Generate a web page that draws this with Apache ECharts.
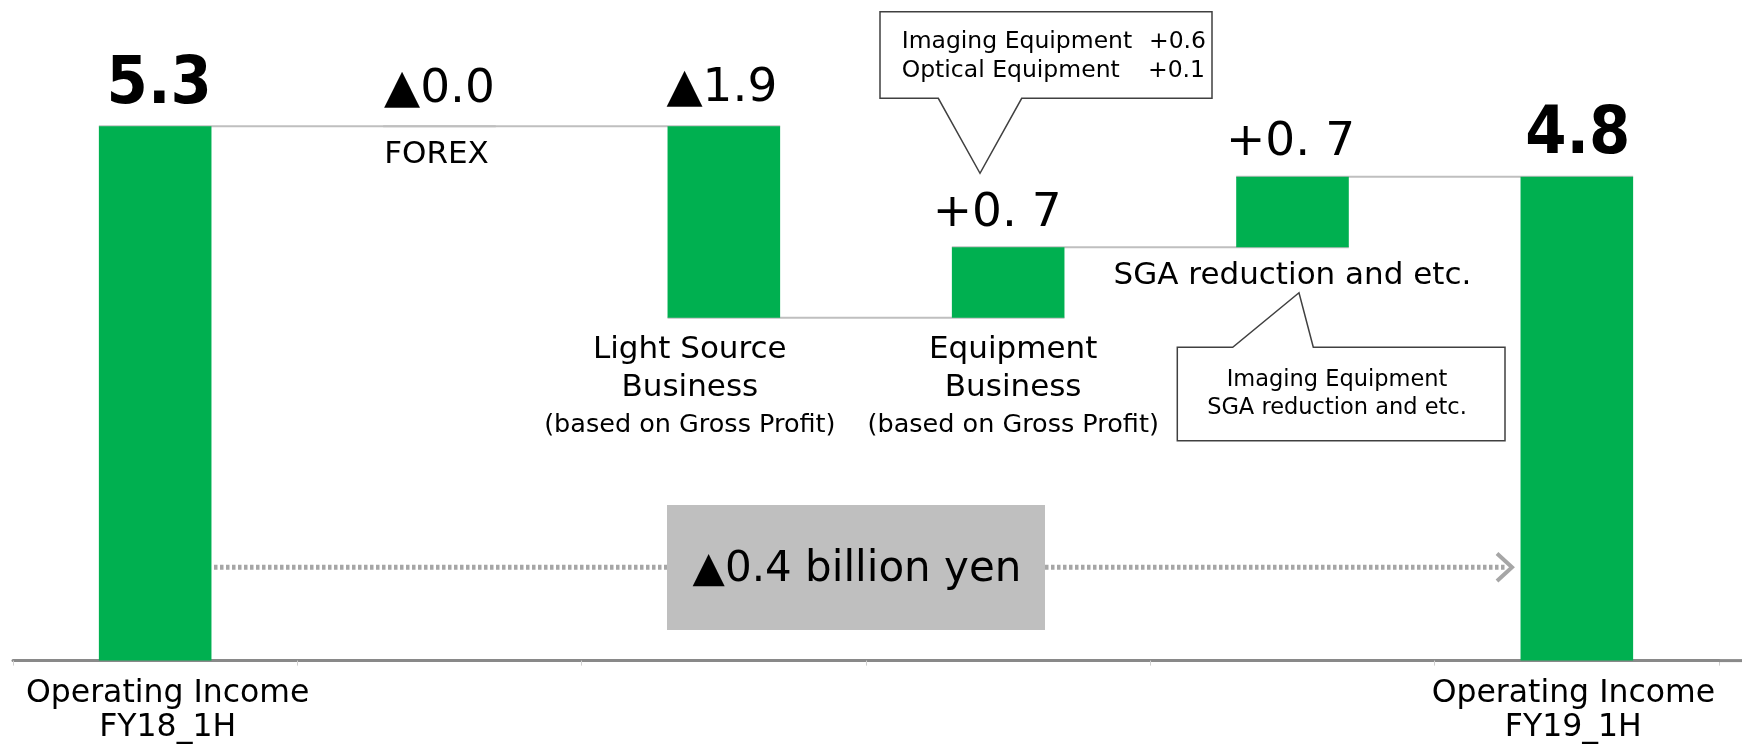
<!DOCTYPE html>
<html>
<head>
<meta charset="utf-8">
<script src="https://cdn.jsdelivr.net/npm/echarts@6/dist/echarts.min.js"></script>
<style>
html,body{margin:0;padding:0;background:#fff;}
#chart{width:1742px;height:744px;}
</style>
</head>
<body>
<div id="chart"></div>
<script>
// ---- data ----
const categories = ['Operating Income\nFY18_1H', 'FOREX', 'Light Source\nBusiness', 'Equipment\nBusiness', 'SGA reduction and etc.', 'Operating Income\nFY19_1H'];
const categoryNotes = ['', '', '(based on Gross Profit)', '(based on Gross Profit)', '', ''];
const startValue = 5.3;
const endValue = 4.8;
const changes = [-0.0, -1.9, 0.7, 0.7];
const valueLabels = ['5.3', '▲0.0', '▲1.9', '+0. 7', '+0. 7', '4.8'];
const callout1Lines = ['Imaging Equipment', 'Optical Equipment'];
const callout1Values = ['+0.6', '+0.1'];
const callout2Lines = ['Imaging Equipment', 'SGA reduction and etc.'];
const totalText = '▲0.4 billion yen';

// ---- derived waterfall values ----
const levels = [startValue];
changes.forEach(c => levels.push(+(levels[levels.length - 1] + c).toFixed(2)));
levels.push(endValue);
const baseValues = [0];
const barValues = [startValue];
changes.forEach((c, k) => {
  const prev = levels[k], next = levels[k + 1];
  baseValues.push(Math.min(prev, next));
  barValues.push(Math.abs(c));
});
baseValues.push(0);
barValues.push(endValue);
const connectorData = [];
for (let i = 0; i < categories.length - 1; i++) connectorData.push([i, i + 1, levels[i]]);

// ---- styles ----
const FONT = "'DejaVu Sans', Verdana, sans-serif";
const BOLD_FONT = "'DejaVu Sans Condensed', 'DejaVu Sans', sans-serif";
const GREEN = '#00B050';
const BAR_RATIO = 0.396;
const isTotal = i => i === 0 || i === categories.length - 1;
const topOffsets = [[4, 0], [0, 0], [-2, 0], [-11, 0], [-2, 0], [1, 0]];
const topDistances = [7.5, 13, 13.5, 10, 10, 7.5];
const bottomOffsets = [[0, 0], [-3, 0], [-34, 0], [5, 0], [0, 0], [0, 0]];
const bottomDistances = [0, 10, 13.3, 13.3, 10, 0];

const chart = echarts.init(document.getElementById('chart'), null, {renderer: 'canvas'});

function renderConnector(params, api) {
  const i0 = api.value(0), i1 = api.value(1), y = api.value(2);
  const band = api.size([1, 0])[0];
  const half = band * BAR_RATIO / 2;
  const p0 = api.coord([i0, y]);
  const p1 = api.coord([i1, y]);
  return {
    type: 'line',
    shape: {x1: p0[0] - half, y1: p0[1], x2: p1[0] + half, y2: p1[1]},
    style: {stroke: '#BFBFBF', lineWidth: 2}
  };
}

const barData = barValues.map((v, i) => ({
  value: v,
  label: isTotal(i) ? {
    show: true, position: 'top', distance: topDistances[i], offset: topOffsets[i],
    formatter: valueLabels[i],
    fontFamily: BOLD_FONT, fontWeight: 'bold', fontSize: 66, lineHeight: 66, color: '#000'
  } : {
    show: true, position: 'top', distance: topDistances[i], offset: topOffsets[i],
    formatter: valueLabels[i],
    fontFamily: FONT, fontSize: 47, lineHeight: 47, color: '#000'
  }
}));

const baseData = baseValues.map((v, i) => ({
  value: v,
  label: isTotal(i) ? {show: false} : {
    show: true, position: 'insideTop', distance: bottomDistances[i], offset: bottomOffsets[i],
    formatter: () => {
      const main = categories[i].split('\n').map(s => '{a|' + s + '}').join('\n');
      return categoryNotes[i] ? main + '\n{b|' + categoryNotes[i] + '}' : main;
    },
    rich: {
      a: {fontFamily: FONT, fontSize: 31, lineHeight: 38, color: '#000'},
      b: {fontFamily: FONT, fontSize: 25.5, lineHeight: 37, color: '#000'}
    }
  }
}));

const axisData = categories.map((c, i) => ({
  value: c,
  textStyle: i === 0 ? {padding: [0, 0, 0, 25]} : (i === categories.length - 1 ? {padding: [0, 7, 0, 0]} : {})
}));

const option = {
  animation: false,
  backgroundColor: '#fff',
  grid: {left: 13, right: 23, top: 55.7, bottom: 83.4, containLabel: false, outerBoundsMode: 'none'},
  xAxis: {
    type: 'category',
    data: axisData,
    axisLine: {show: true, lineStyle: {color: '#898989', width: 3}},
    axisTick: {show: true, length: 5, lineStyle: {color: '#D0D0D0', width: 1}},
    axisLabel: {
      interval: 0,
      formatter: (val, idx) => isTotal(idx) ? val : '',
      fontFamily: FONT, fontSize: 31.5, lineHeight: 34, color: '#000', margin: 16
    }
  },
  yAxis: {type: 'value', min: 0, max: 6, show: false, splitLine: {show: false}},
  series: [
    {
      type: 'custom', name: 'connector', renderItem: renderConnector,
      data: connectorData, encode: {x: [0, 1], y: 2}, z: 1, silent: true
    },
    {
      type: 'bar', name: 'base', stack: 'w', barWidth: (BAR_RATIO * 100) + '%',
      itemStyle: {color: 'rgba(0,0,0,0)'}, data: baseData, z: 2, silent: true
    },
    {
      type: 'bar', name: 'value', stack: 'w', barWidth: (BAR_RATIO * 100) + '%',
      itemStyle: {color: GREEN}, data: barData, z: 3, silent: true
    }
  ],
  graphic: [
    // axis line continuation beyond the last tick
    {type: 'line', shape: {x1: 1719, y1: 660.6, x2: 1742, y2: 660.6}, style: {stroke: '#898989', lineWidth: 3}, z: 1},
    // dotted arrow
    {type: 'line', shape: {x1: 214, y1: 567.3, x2: 667, y2: 567.3}, style: {stroke: '#A6A6A6', lineWidth: 5, lineDash: [3.5, 2.5]}},
    {type: 'line', shape: {x1: 1045, y1: 567.3, x2: 1506, y2: 567.3}, style: {stroke: '#A6A6A6', lineWidth: 5, lineDash: [3.5, 2.5]}},
    {type: 'polyline', shape: {points: [[1497, 553.5], [1512, 567.3], [1497, 581]]}, style: {stroke: '#A6A6A6', lineWidth: 4, fill: null}},
    // total change box
    {type: 'rect', shape: {x: 667, y: 505, width: 378, height: 125}, style: {fill: '#BFBFBF'}},
    {type: 'text', x: 857, y: 570, style: {text: totalText, font: '42px ' + FONT, fill: '#000', align: 'center', verticalAlign: 'middle'}},
    // callout 1
    {type: 'polygon', shape: {points: [[880, 11.7], [1212, 11.7], [1212, 98.3], [1021.7, 98.3], [980, 173.3], [938.3, 98.3], [880, 98.3]]},
      style: {fill: '#fff', stroke: '#404040', lineWidth: 1.5}},
    {type: 'text', x: 901.7, y: 42, style: {text: callout1Lines[0], font: '23.5px ' + FONT, fill: '#000', align: 'left', verticalAlign: 'middle'}},
    {type: 'text', x: 901.7, y: 71, style: {text: callout1Lines[1], font: '23.5px ' + FONT, fill: '#000', align: 'left', verticalAlign: 'middle'}},
    {type: 'text', x: 1206, y: 42, style: {text: callout1Values[0], font: '23.5px ' + FONT, fill: '#000', align: 'right', verticalAlign: 'middle'}},
    {type: 'text', x: 1205, y: 71, style: {text: callout1Values[1], font: '23.5px ' + FONT, fill: '#000', align: 'right', verticalAlign: 'middle'}},
    // callout 2
    {type: 'polygon', shape: {points: [[1177.3, 347.3], [1232.7, 347.3], [1299, 292.7], [1313.3, 347.3], [1505, 347.3], [1505, 440.7], [1177.3, 440.7]]},
      style: {fill: '#fff', stroke: '#404040', lineWidth: 1.5}},
    {type: 'text', x: 1337, y: 380, style: {text: callout2Lines[0], font: '22.5px ' + FONT, fill: '#000', align: 'center', verticalAlign: 'middle'}},
    {type: 'text', x: 1337, y: 408.5, style: {text: callout2Lines[1], font: '22.5px ' + FONT, fill: '#000', align: 'center', verticalAlign: 'middle'}}
  ]
};
chart.setOption(option);
</script>
</body>
</html>
